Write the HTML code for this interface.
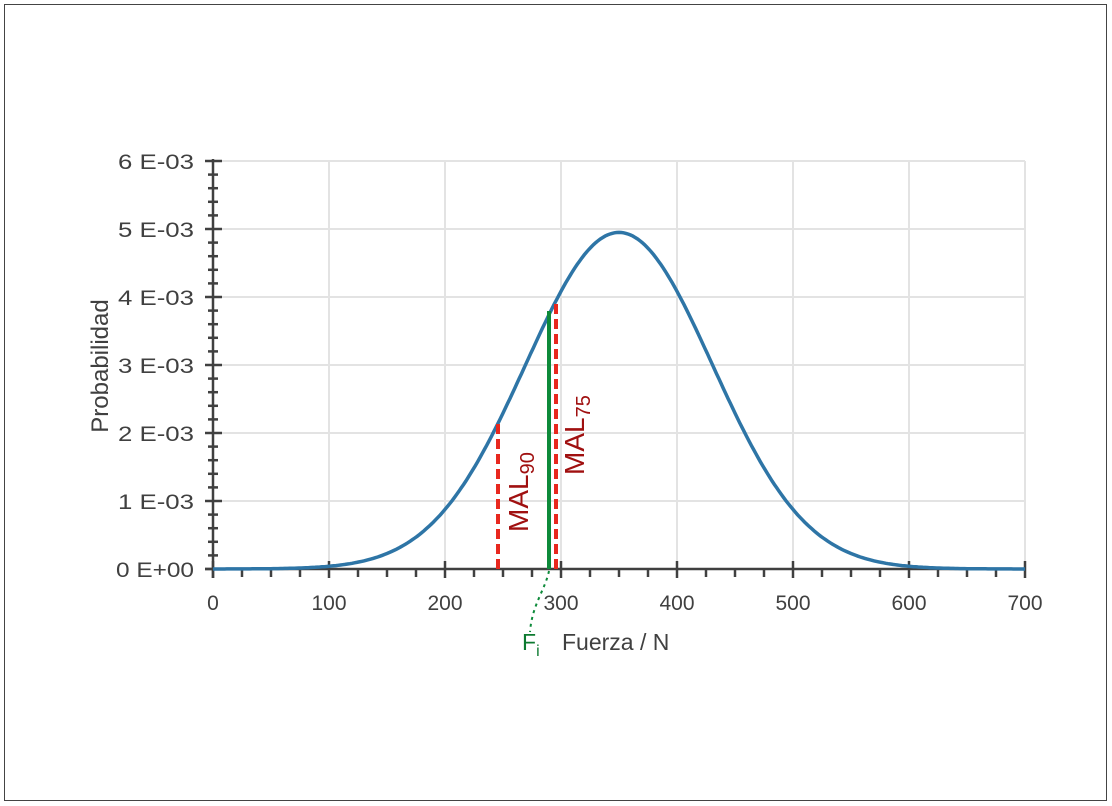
<!DOCTYPE html>
<html><head><meta charset="utf-8"><style>
html,body{margin:0;padding:0;background:#fff;}
svg{display:block;font-family:"Liberation Sans",sans-serif;}
</style></head><body>
<svg id="s" width="1112" height="806" viewBox="0 0 1112 806" xmlns="http://www.w3.org/2000/svg">
<rect x="4.5" y="4.5" width="1102" height="796" fill="#fff" stroke="#444" stroke-width="1"/>
<g id="grid" stroke="#e3e3e3" stroke-width="2"></g>
<g id="ticks" stroke="#404040" stroke-width="2.5"></g>
<path id="curve" fill="none" stroke="#2e75a6" stroke-width="3.5"/>
<line x1="498" y1="569" x2="498" y2="420" stroke="#e8281e" stroke-width="4" stroke-dasharray="10,5"/>
<line x1="549" y1="569" x2="549" y2="311" stroke="#0d8a3a" stroke-width="4"/>
<line x1="556" y1="569" x2="556" y2="300" stroke="#e8281e" stroke-width="4" stroke-dasharray="10,5"/>
<path d="M549,571 C545,590 532,605 530,632" fill="none" stroke="#0d8a3a" stroke-width="2" stroke-dasharray="3,4"/>
<g fill="#404040" font-size="21" id="labels"></g>
<text transform="translate(108,366) rotate(-90)" text-anchor="middle" font-size="24" fill="#404040">Probabilidad</text>
<text x="562" y="650" font-size="23" fill="#404040">Fuerza / N</text>
<text x="522" y="650" font-size="23" fill="#0d7a30">F<tspan font-size="16" dy="6">i</tspan></text>
<text transform="translate(528,532) rotate(-90)" font-size="28" fill="#a01010">MAL<tspan font-size="20" dy="6">90</tspan></text>
<text transform="translate(584,475) rotate(-90)" font-size="28" fill="#a01010">MAL<tspan font-size="20" dy="6">75</tspan></text>
</svg>
<script>
var NS="http://www.w3.org/2000/svg";
function el(p,t,a,txt){var e=document.createElementNS(NS,t);for(var k in a)e.setAttribute(k,a[k]);if(txt!=null)e.textContent=txt;document.getElementById(p).appendChild(e);}
var X=function(v){return 213+v*812/700;}, Y=function(v){return 569-v*68;};
for(var i=1;i<=7;i++)el("grid","line",{x1:X(i*100),x2:X(i*100),y1:161,y2:569});
for(var j=1;j<=6;j++)el("grid","line",{x1:213,x2:1025,y1:Y(j),y2:Y(j)});
el("ticks","line",{x1:213,x2:213,y1:159,y2:578});
el("ticks","line",{x1:205,x2:1025,y1:569,y2:569});
for(var j=0;j<=30;j++){var y=569-j*13.6;if(j%5==0)el("ticks","line",{x1:205,x2:222,y1:y,y2:y});else el("ticks","line",{x1:208,x2:218,y1:y,y2:y});}
for(var i=0;i<=28;i++){var x=X(i*25);if(i%4==0)el("ticks","line",{x1:x,x2:x,y1:561,y2:578});else el("ticks","line",{x1:x,x2:x,y1:569,y2:577});}
var lab=["0 E+00","1 E-03","2 E-03","3 E-03","4 E-03","5 E-03","6 E-03"];
for(var j=0;j<=6;j++)el("labels","text",{x:194,y:Y(j)+8,"text-anchor":"end","textLength":(j==0?78:76),"lengthAdjust":"spacingAndGlyphs"},lab[j]);
for(var i=0;i<=7;i++)el("labels","text",{x:X(i*100),y:610,"text-anchor":"middle"},String(i*100));
var d="",s=80.6,m=350;
for(var v=0;v<=700;v+=2){var p=Math.exp(-0.5*Math.pow((v-m)/s,2))/(s*Math.sqrt(2*Math.PI))*1000;d+=(v?"L":"M")+X(v).toFixed(1)+","+Y(p).toFixed(1);}
document.getElementById("curve").setAttribute("d",d);
</script>
</body></html>
